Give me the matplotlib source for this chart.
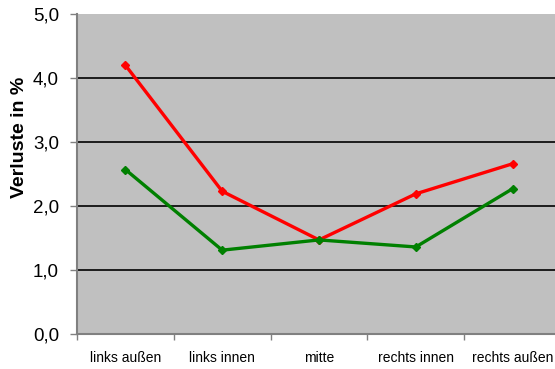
import matplotlib
matplotlib.use("Agg")
import matplotlib.pyplot as plt
import numpy as np

categories = ["links außen", "links innen", "mitte", "rechts innen", "rechts außen"]
red_values = [4.20, 2.23, 1.47, 2.19, 2.66]
green_values = [2.57, 1.31, 1.47, 1.36, 2.27]
y_ticks = [0.0, 1.0, 2.0, 3.0, 4.0, 5.0]
y_tick_labels = ["0,0", "1,0", "2,0", "3,0", "4,0", "5,0"]

plt.rcParams["font.family"] = ["Liberation Sans", "DejaVu Sans"]

W, H = 555, 369
fig = plt.figure(figsize=(W / 100, H / 100), dpi=100)
ax = fig.add_axes([77 / W, 35 / H, (561 - 77) / W, (334 - 14) / H])
ax.set_facecolor("#C0C0C0")

x = np.arange(len(categories))
ax.plot(x, red_values, color="#FF0000", lw=2.4, marker="D", ms=4.5, zorder=3)
ax.plot(x, green_values, color="#008000", lw=2.4, marker="D", ms=4.5, zorder=3)

ax.set_xlim(-0.5, len(categories) - 0.5)
ax.set_ylim(0, 5)

ax.set_yticks(y_ticks)
ax.set_yticklabels(y_tick_labels, fontsize=13.5)
for yv in y_ticks[1:-1]:
    ax.axhline(yv, color="black", lw=1.2, zorder=1)

ax.set_xticks(x)
ax.set_xticklabels(categories, fontsize=10)
ax.set_xticks(np.arange(len(categories) + 1) - 0.5, minor=True)
ax.tick_params(axis="x", which="major", length=0, pad=12.5)
ax.tick_params(axis="x", which="minor", length=4, color="#808080", width=1)
ax.tick_params(axis="y", length=5, color="#808080", width=1, pad=8)

for side in ["top", "right"]:
    ax.spines[side].set_visible(False)
for side in ["left", "bottom"]:
    ax.spines[side].set_color("#808080")
    ax.spines[side].set_linewidth(1.5)

fig.text(20 / W, 1 - 137.5 / H, "Verluste in %", rotation=90, fontsize=14,
         fontweight="bold", ha="center", va="center")

fig.savefig("out.png", dpi=100)
